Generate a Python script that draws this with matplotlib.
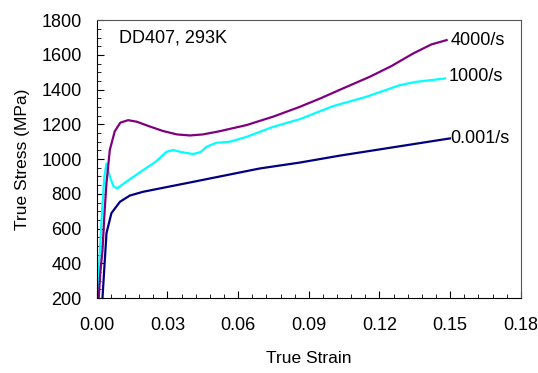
import numpy as np
import matplotlib
matplotlib.use('Agg')
import matplotlib.pyplot as plt
import matplotlib.ticker as ticker

plt.rcParams['font.family'] = ['Liberation Sans', 'DejaVu Sans']

# strain / stress
strain_4000 = [0.0008, 0.0015, 0.0024, 0.0033, 0.0041, 0.0055, 0.0076, 0.0100, 0.0133, 0.017, 0.022,
               0.028, 0.034, 0.0395, 0.045, 0.052, 0.0636, 0.075, 0.0862, 0.095, 0.103, 0.1159,
               0.125, 0.1343, 0.142, 0.1485]
stress_4000 = [200, 350, 476, 700, 862, 1052, 1160, 1210, 1224, 1215, 1190,
               1162, 1142, 1136, 1142, 1160, 1196, 1245, 1301, 1350, 1398, 1474,
               1535, 1608, 1660, 1685]

strain_1000 = [0.0003, 0.0012, 0.0022, 0.0032, 0.0041, 0.0055, 0.0070, 0.0086, 0.012, 0.0197, 0.025,
               0.0296, 0.0324, 0.036, 0.0409, 0.044, 0.0466, 0.0508, 0.0565, 0.0636, 0.0749,
               0.0862, 0.1003, 0.1145, 0.1287, 0.1357, 0.1478]
stress_1000 = [200, 450, 700, 900, 975, 900, 845, 831, 865, 937, 985,
               1042, 1052, 1040, 1029, 1040, 1071, 1094, 1100, 1128, 1186,
               1230, 1305, 1359, 1426, 1445, 1464]

strain_qs = [0.0024, 0.0033, 0.0041, 0.0062, 0.0098, 0.0140, 0.0197, 0.0409, 0.0692, 0.0862, 0.1032, 0.1499]
stress_qs = [200, 400, 574, 689, 754, 790, 812, 869, 946, 980, 1020, 1119]

labels = ['4000/s', '1000/s', '0.001/s']

fig, ax = plt.subplots(figsize=(5.38, 3.73), dpi=100)
fig.subplots_adjust(left=0.180, right=0.968, top=0.946, bottom=0.201)

ax.plot(strain_qs, stress_qs, color='#000080', lw=1.6)
ax.plot(strain_1000, stress_1000, color='#00FFFF', lw=1.6)
ax.plot(strain_4000, stress_4000, color='#800080', lw=1.6)

# curve labels at the end of each line
ax.text(strain_4000[-1] + 0.0015, stress_4000[-1], labels[0], fontsize=13, va='center')
ax.text(strain_1000[-1] + 0.0015, stress_1000[-1] + 10, labels[1], fontsize=13, va='center')
ax.text(strain_qs[-1] + 0.0003, stress_qs[-1], labels[2], fontsize=13, va='center')

ax.text(0.0095, 1695, 'DD407, 293K', fontsize=13, va='center')

ax.set_xlim(0, 0.18)
ax.set_ylim(200, 1800)
ax.xaxis.set_major_locator(ticker.MultipleLocator(0.03))
ax.xaxis.set_minor_locator(ticker.MultipleLocator(0.006))
ax.yaxis.set_major_locator(ticker.MultipleLocator(200))
ax.yaxis.set_minor_locator(ticker.MultipleLocator(50))
ax.xaxis.set_major_formatter(ticker.FormatStrFormatter('%.2f'))
ax.tick_params(which='both', direction='in', labelsize=13)
ax.tick_params(which='major', length=5)
ax.tick_params(axis='x', which='major', pad=14)
ax.tick_params(axis='y', which='major', pad=11)
ax.tick_params(which='minor', length=3)

for s in ['top', 'right']:
    ax.spines[s].set_color('#555555')

ax.set_xlabel('True Strain', fontsize=12.5, labelpad=12)
ax.set_ylabel('True Stress (MPa)', fontsize=12.5, labelpad=8)

plt.savefig('out.png', dpi=100)
